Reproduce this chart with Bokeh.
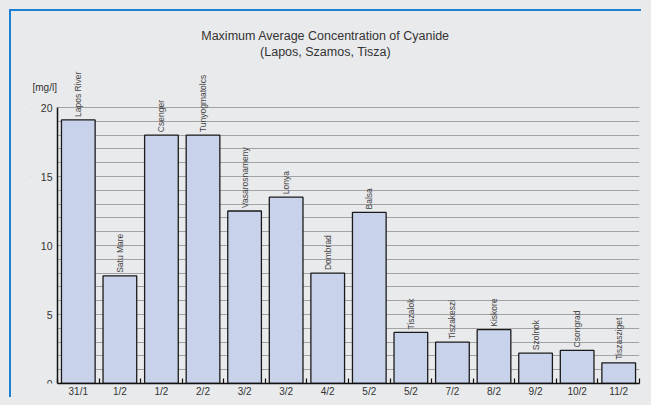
import math
from bokeh.plotting import figure
from bokeh.models import (ColumnDataSource, Range1d, FixedTicker, LabelSet, Label, BoxAnnotation)
from bokeh.core.properties import value
from bokeh.embed import file_html
from bokeh.resources import INLINE

# ---- data ----
sites = ["Lapos River", "Satu Mare", "Csenger", "Tunyogmatolcs", "Vasarosnameny",
         "Lonya", "Dombrad", "Balsa", "Tiszalok", "Tiszakeszi", "Kiskore",
         "Szolnok", "Csongrad", "Tiszasziget"]
dates = ["31/1", "1/2", "1/2", "2/2", "3/2", "3/2", "4/2", "5/2", "5/2",
         "7/2", "8/2", "9/2", "10/2", "11/2"]
concentration = [19.1, 7.8, 18.0, 18.0, 12.5, 13.5, 8.0, 12.4, 3.7, 3.0, 3.9, 2.2, 2.4, 1.5]
y_major_ticks = [0, 5, 10, 15, 20]
y_minor_ticks = list(range(0, 21))
title_lines = ["Maximum Average Concentration of Cyanide", "(Lapos, Szamos, Tisza)"]
unit_label = "[mg/l]"

FONT = "Liberation Sans"
BG = "#e9eaec"

n = len(sites)
xs = [i + 0.5 for i in range(n)]
src = ColumnDataSource(dict(x=xs, top=concentration, site=sites))

p = figure(width=632, height=388, output_backend="svg", toolbar_location=None,
           x_range=Range1d(-0.65, n), y_range=Range1d(0, 26.96),
           min_border_left=19, min_border_right=4, min_border_top=0,
           min_border_bottom=16)
p.background_fill_color = BG
p.border_fill_color = BG
p.outline_line_color = None
p.styles = {"border-top": "2px solid #1e80d4", "border-left": "2px solid #1e80d4",
            "margin": "9px 0 0 9px"}

# grid
p.xgrid.visible = False
p.ygrid.ticker = FixedTicker(ticks=y_major_ticks, minor_ticks=y_minor_ticks)
p.ygrid.grid_line_color = "#a2a2a2"
p.ygrid.grid_line_width = 1
p.ygrid.minor_grid_line_color = "#a2a2a2"
p.ygrid.minor_grid_line_width = 1
# keep the grid to the right of the value axis
p.add_layout(BoxAnnotation(right=0, fill_color=BG, fill_alpha=1.0, line_color=None,
                           level="underlay"))

# bars
p.vbar(x="x", top="top", width=0.81, bottom=0, source=src,
       fill_color="#c8d3eb", line_color="#1a1a1a", line_width=1.3)

labels = LabelSet(x="x", y="top", text="site", source=src, angle=math.pi / 2,
                  y_offset=3, text_align="left", text_baseline="middle",
                  text_font=value(FONT), text_font_size=value("8.5px"),
                  text_color=value("#444444"))
p.add_layout(labels)

# x axis
xa = p.xaxis[0]
xa.bounds = (0, n)
xa.ticker = FixedTicker(ticks=xs, minor_ticks=list(range(0, n + 1)))
xa.major_label_overrides = {x: d for x, d in zip(xs, dates)}
xa.major_tick_in = 0
xa.major_tick_out = 0
xa.minor_tick_in = 5
xa.minor_tick_out = 0
xa.minor_tick_line_color = "#111111"
xa.minor_tick_line_width = 1.2
xa.axis_line_color = "#111111"
xa.axis_line_width = 1.5
xa.major_label_standoff = 2
xa.major_label_text_font = FONT
xa.major_label_text_font_size = "10px"
xa.major_label_text_color = "#333333"

# y axis (drawn at x = 0)
ya = p.yaxis[0]
ya.fixed_location = 0
ya.ticker = FixedTicker(ticks=y_major_ticks, minor_ticks=[])
ya.bounds = (0, 20)
ya.major_tick_in = 0
ya.major_tick_out = 0
ya.minor_tick_in = 0
ya.minor_tick_out = 0
ya.axis_line_color = "#111111"
ya.axis_line_width = 1.5
ya.major_label_standoff = 5
ya.major_label_text_font = FONT
ya.major_label_text_font_size = "10.5px"
ya.major_label_text_color = "#333333"
ya.major_label_text_baseline = "alphabetic"

# title lines and unit label (screen units relative to the frame)
p.add_layout(Label(x=295, y=348, x_units="screen", y_units="screen", text=title_lines[0],
                   text_align="center", text_baseline="middle", text_font=FONT,
                   text_font_size="12.5px", text_color="#333333"))
p.add_layout(Label(x=295, y=332, x_units="screen", y_units="screen", text=title_lines[1],
                   text_align="center", text_baseline="middle", text_font=FONT,
                   text_font_size="12.5px", text_color="#333333"))
p.add_layout(Label(x=2, y=296, x_units="screen", y_units="screen", text=unit_label,
                   text_align="left", text_baseline="middle", text_font=FONT,
                   text_font_size="10px", text_color="#333333"))

html = file_html(p, INLINE)
html = html.replace("<head>", "<head><style>body{background:#e9eaec;}</style>", 1)
open("out.html", "w").write(html)
